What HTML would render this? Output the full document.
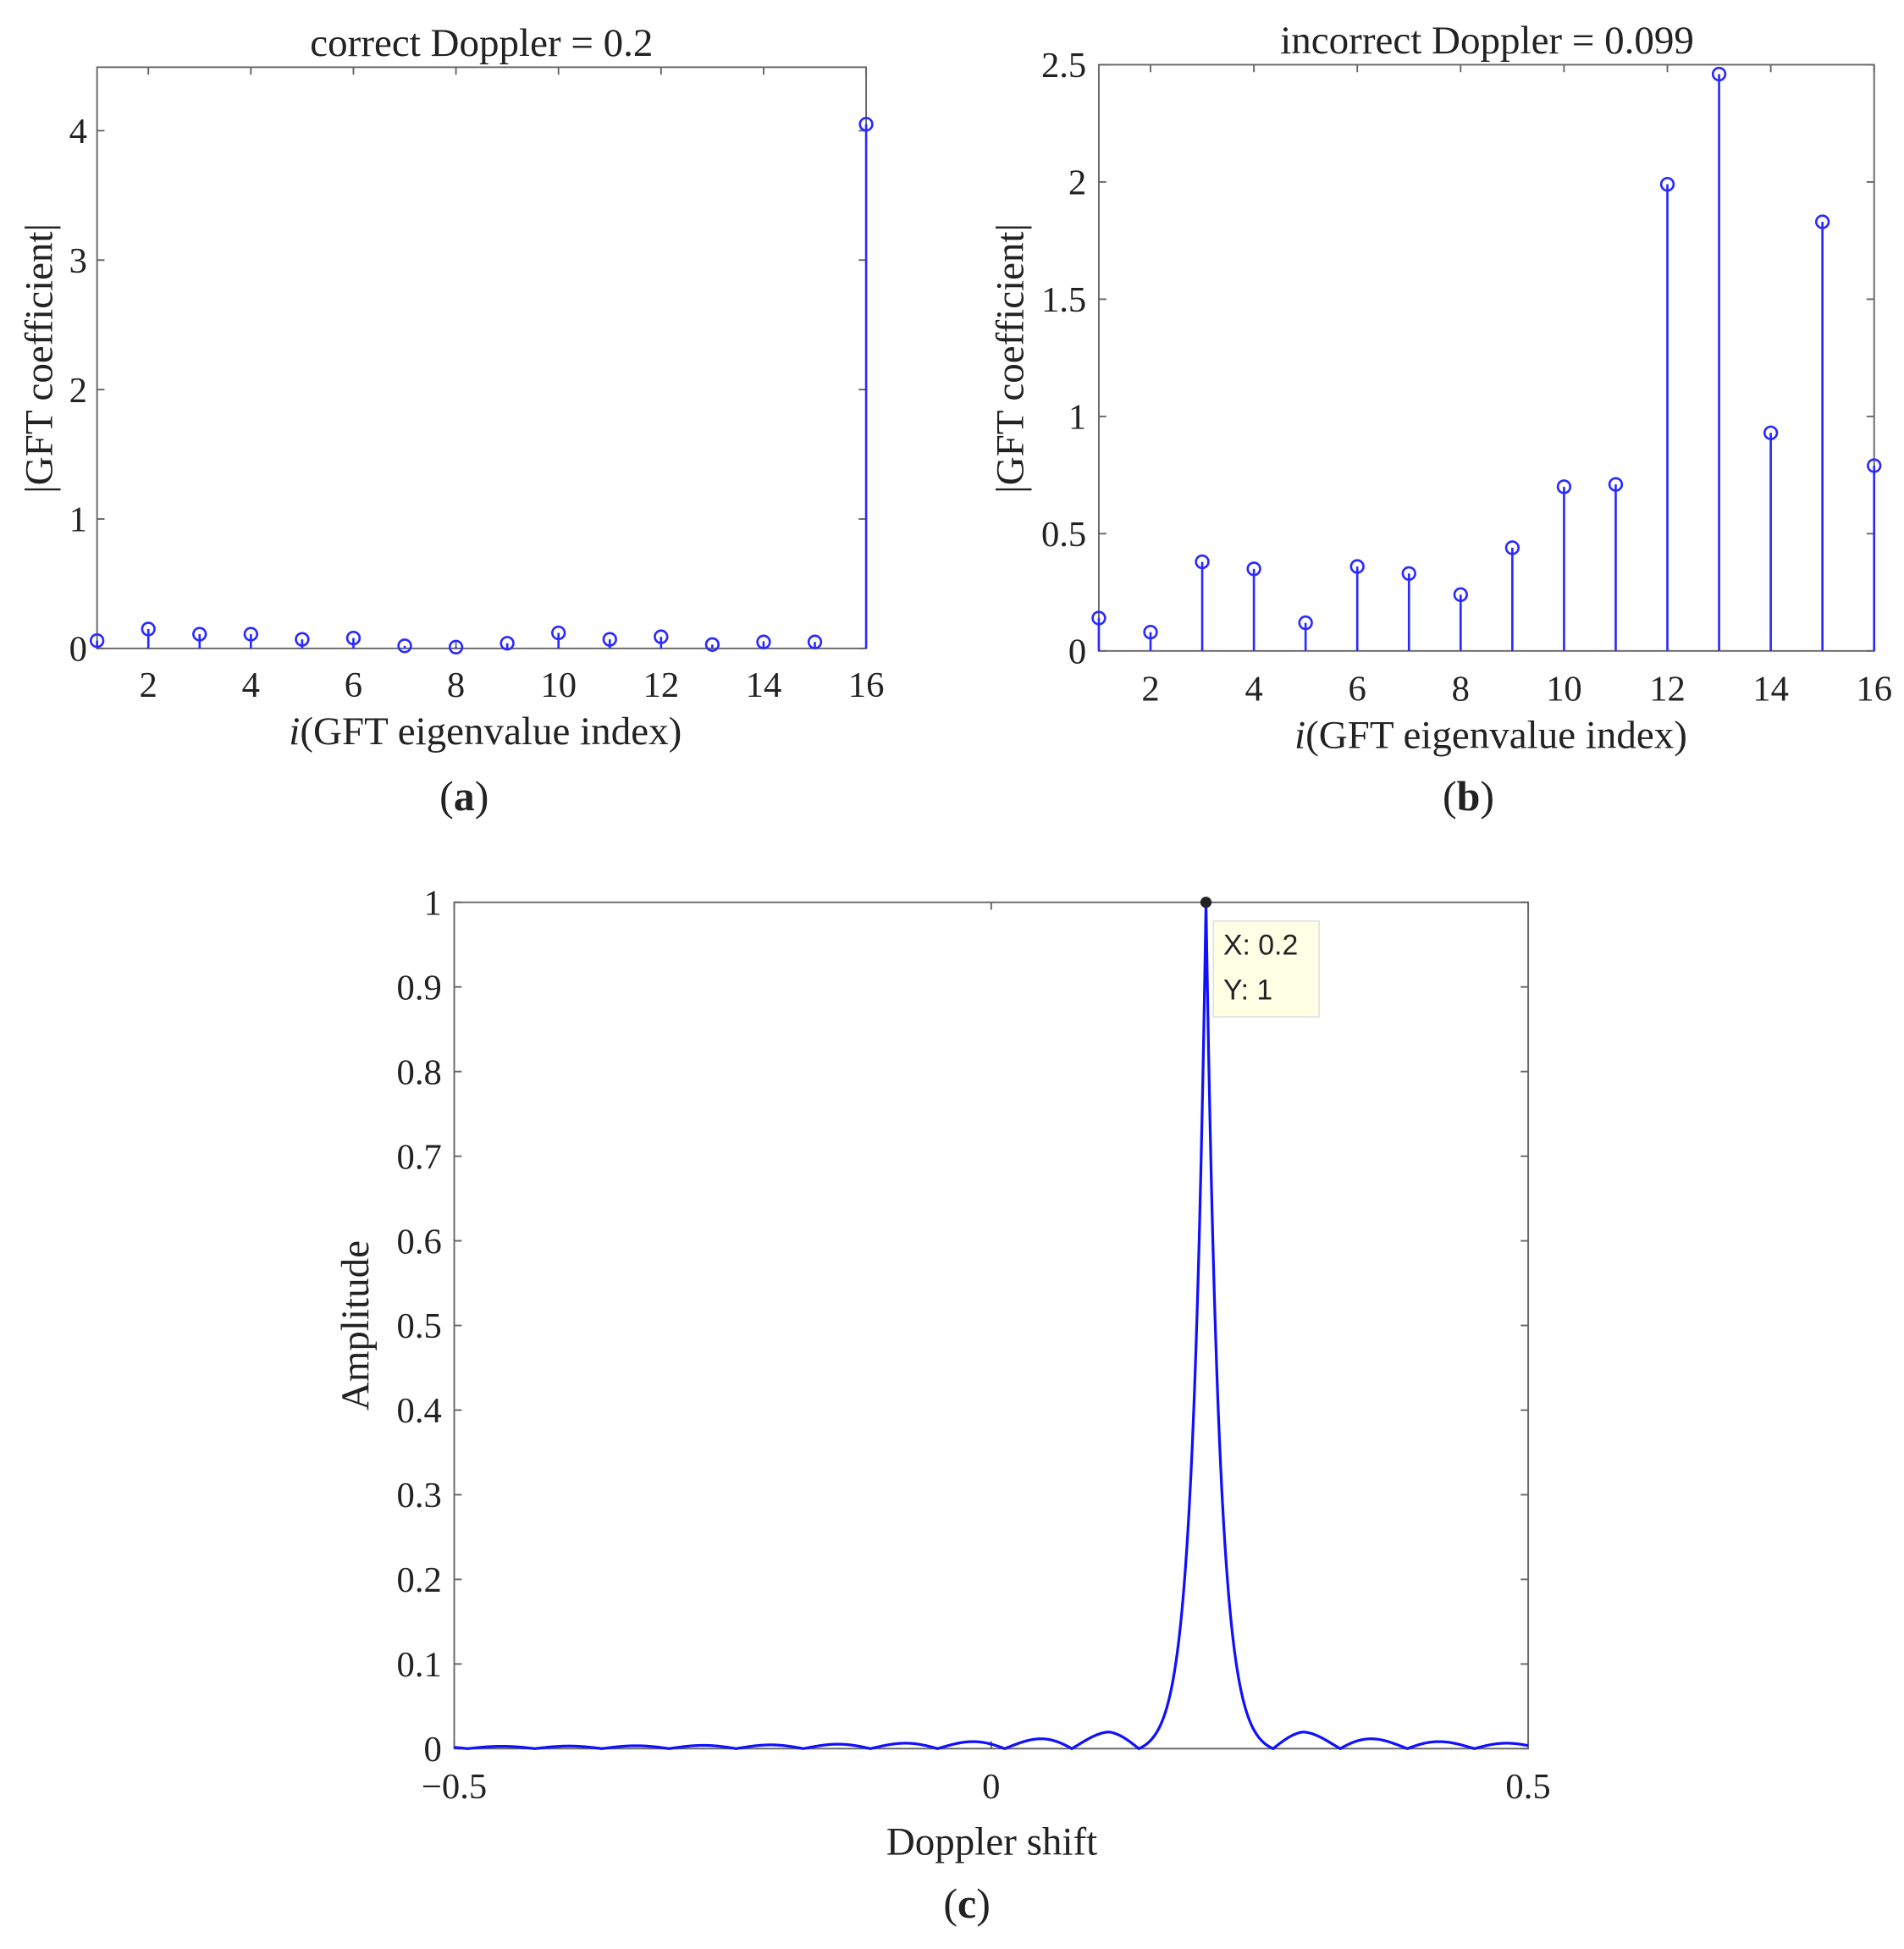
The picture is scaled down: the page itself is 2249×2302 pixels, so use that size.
<!DOCTYPE html>
<html><head><meta charset="utf-8"><style>
html,body{margin:0;padding:0;background:#fff}
svg{display:block}
text{font-family:"Liberation Serif",serif;fill:#222}
</style></head><body>
<svg id="s" width="2249" height="2302" viewBox="0 0 1530 1566" preserveAspectRatio="none" xmlns="http://www.w3.org/2000/svg">
<g id="g"></g>
</svg>
<script>
var ns="http://www.w3.org/2000/svg",g=document.getElementById("g");
function el(t,a,txt){var e=document.createElementNS(ns,t);for(var k in a)e.setAttribute(k,a[k]);if(txt!==undefined)e.textContent=txt;g.appendChild(e);return e;}
function line(x1,y1,x2,y2,c,w){el("line",{x1:x1,y1:y1,x2:x2,y2:y2,stroke:c||"#666","stroke-width":w||1.3});}
function txt(x,y,s,size,anchor,extra){var a={x:x,y:y,"font-size":size,"text-anchor":anchor||"middle"};for(var k in extra)a[k]=extra[k];return el("text",a,s);}
function axes(L,R,T,B){el("rect",{x:L,y:T,width:R-L,height:B-T,fill:"none",stroke:"#666","stroke-width":1.3});}
function lab(x,y,l){var t=txt(x,y,"",34,"middle",{fill:"#000"});t.innerHTML='(<tspan font-weight="bold">'+l+'</tspan>)';}
// Panel a
(function(){var L=78,R=696,T=54,B=521,sx=(R-L)/15,sy=104;axes(L,R,T,B);
for(var i=2;i<=16;i+=2){var x=L+(i-1)*sx;line(x,B,x,B-6);line(x,T,x,T+6);txt(x,560,i,29);}
for(var v=0;v<=4;v++){var y=B-v*sy;line(L,y,L+6,y);line(R,y,R-6,y);txt(L-8,y+10,v,29,"end");}
var d=[0.06,0.15,0.11,0.11,0.07,0.08,0.02,0.01,0.04,0.12,0.07,0.09,0.03,0.05,0.05,4.05];
d.forEach(function(v,i){var x=L+i*sx,y=B-v*sy;line(x,B,x,y,"#2a2aff",1.8);el("circle",{cx:x,cy:y,r:5,fill:"none",stroke:"#2a2aff","stroke-width":1.8});});
txt(387,45,"correct Doppler = 0.2",32);
var t=txt(390,598,"",32);t.innerHTML='<tspan font-style="italic">i</tspan>(GFT eigenvalue index)';
txt(42,288,"|GFT coefficient|",32,"middle",{transform:"rotate(-90 42 288)"});
lab(373,651,"a");
})();
// Panel b
(function(){var L=883,R=1506,T=52,B=523,sx=(R-L)/15,sy=(B-T)/2.5;axes(L,R,T,B);
for(var i=2;i<=16;i+=2){var x=L+(i-1)*sx;line(x,B,x,B-6);line(x,T,x,T+6);txt(x,563,i,29);}
for(var k=0;k<=5;k++){var v=k*0.5,y=B-v*sy;line(L,y,L+6,y);line(R,y,R-6,y);txt(L-10,y+10,(k%2?v.toFixed(1):v),29,"end");}
var d=[0.14,0.08,0.38,0.35,0.12,0.36,0.33,0.24,0.44,0.70,0.71,1.99,2.46,0.93,1.83,0.79];
d.forEach(function(v,i){var x=L+i*sx,y=B-v*sy;line(x,B,x,y,"#2a2aff",1.8);el("circle",{cx:x,cy:y,r:5,fill:"none",stroke:"#2a2aff","stroke-width":1.8});});
txt(1195,43,"incorrect Doppler = 0.099",32);
var t=txt(1198,601,"",32);t.innerHTML='<tspan font-style="italic">i</tspan>(GFT eigenvalue index)';
txt(822,288,"|GFT coefficient|",32,"middle",{transform:"rotate(-90 822 288)"});
lab(1180,651,"b");
})();
// Panel c
(function(){var L=365,R=1228,T=725,B=1405,sy=B-T;axes(L,R,T,B);
var X=function(f){return L+(f+0.5)*(R-L);};
[-0.5,0,0.5].forEach(function(f){var x=X(f);line(x,B,x,B-6);line(x,T,x,T+6);txt(x,1445,f==-0.5?"\u22120.5":f,29);});
for(var k=0;k<=10;k++){var y=B-k*0.1*sy;line(L,y,L+6,y);line(R,y,R-6,y);txt(L-10,y+10,k==0?"0":(k==10?"1":(k/10).toFixed(1)),29,"end");}
var w=0.0126,e0=Math.exp(-0.0625/w);
var p="";for(var i=0;i<=2000;i++){var f=-0.5+i/2000,d=f-0.2,a=Math.abs(d),v;
if(a<0.0625){v=(Math.exp(-a/w)-e0)/(1-e0);}else{v=Math.abs(Math.sin(16*Math.PI*d))*Math.min(0.0018/a,0.02);}
p+=(i?"L":"M")+X(f).toFixed(2)+","+(B-v*sy).toFixed(2);}
el("path",{d:p,fill:"none",stroke:"#1010ff","stroke-width":2.2});
el("rect",{x:975,y:740,width:85,height:77,fill:"#ffffe6",stroke:"#ddd","stroke-width":1});
el("text",{x:983,y:767,"font-size":23,style:"font-family:'Liberation Sans',sans-serif"},"X: 0.2");
el("text",{x:983,y:803,"font-size":23,style:"font-family:'Liberation Sans',sans-serif"},"Y: 1");
el("circle",{cx:X(0.2),cy:T,r:4.5,fill:"#222"});
txt(797,1490,"Doppler shift",32);
txt(296,1065,"Amplitude",32,"middle",{transform:"rotate(-90 296 1065)"});
lab(777,1541,"c");
})();
</script>
</body></html>
